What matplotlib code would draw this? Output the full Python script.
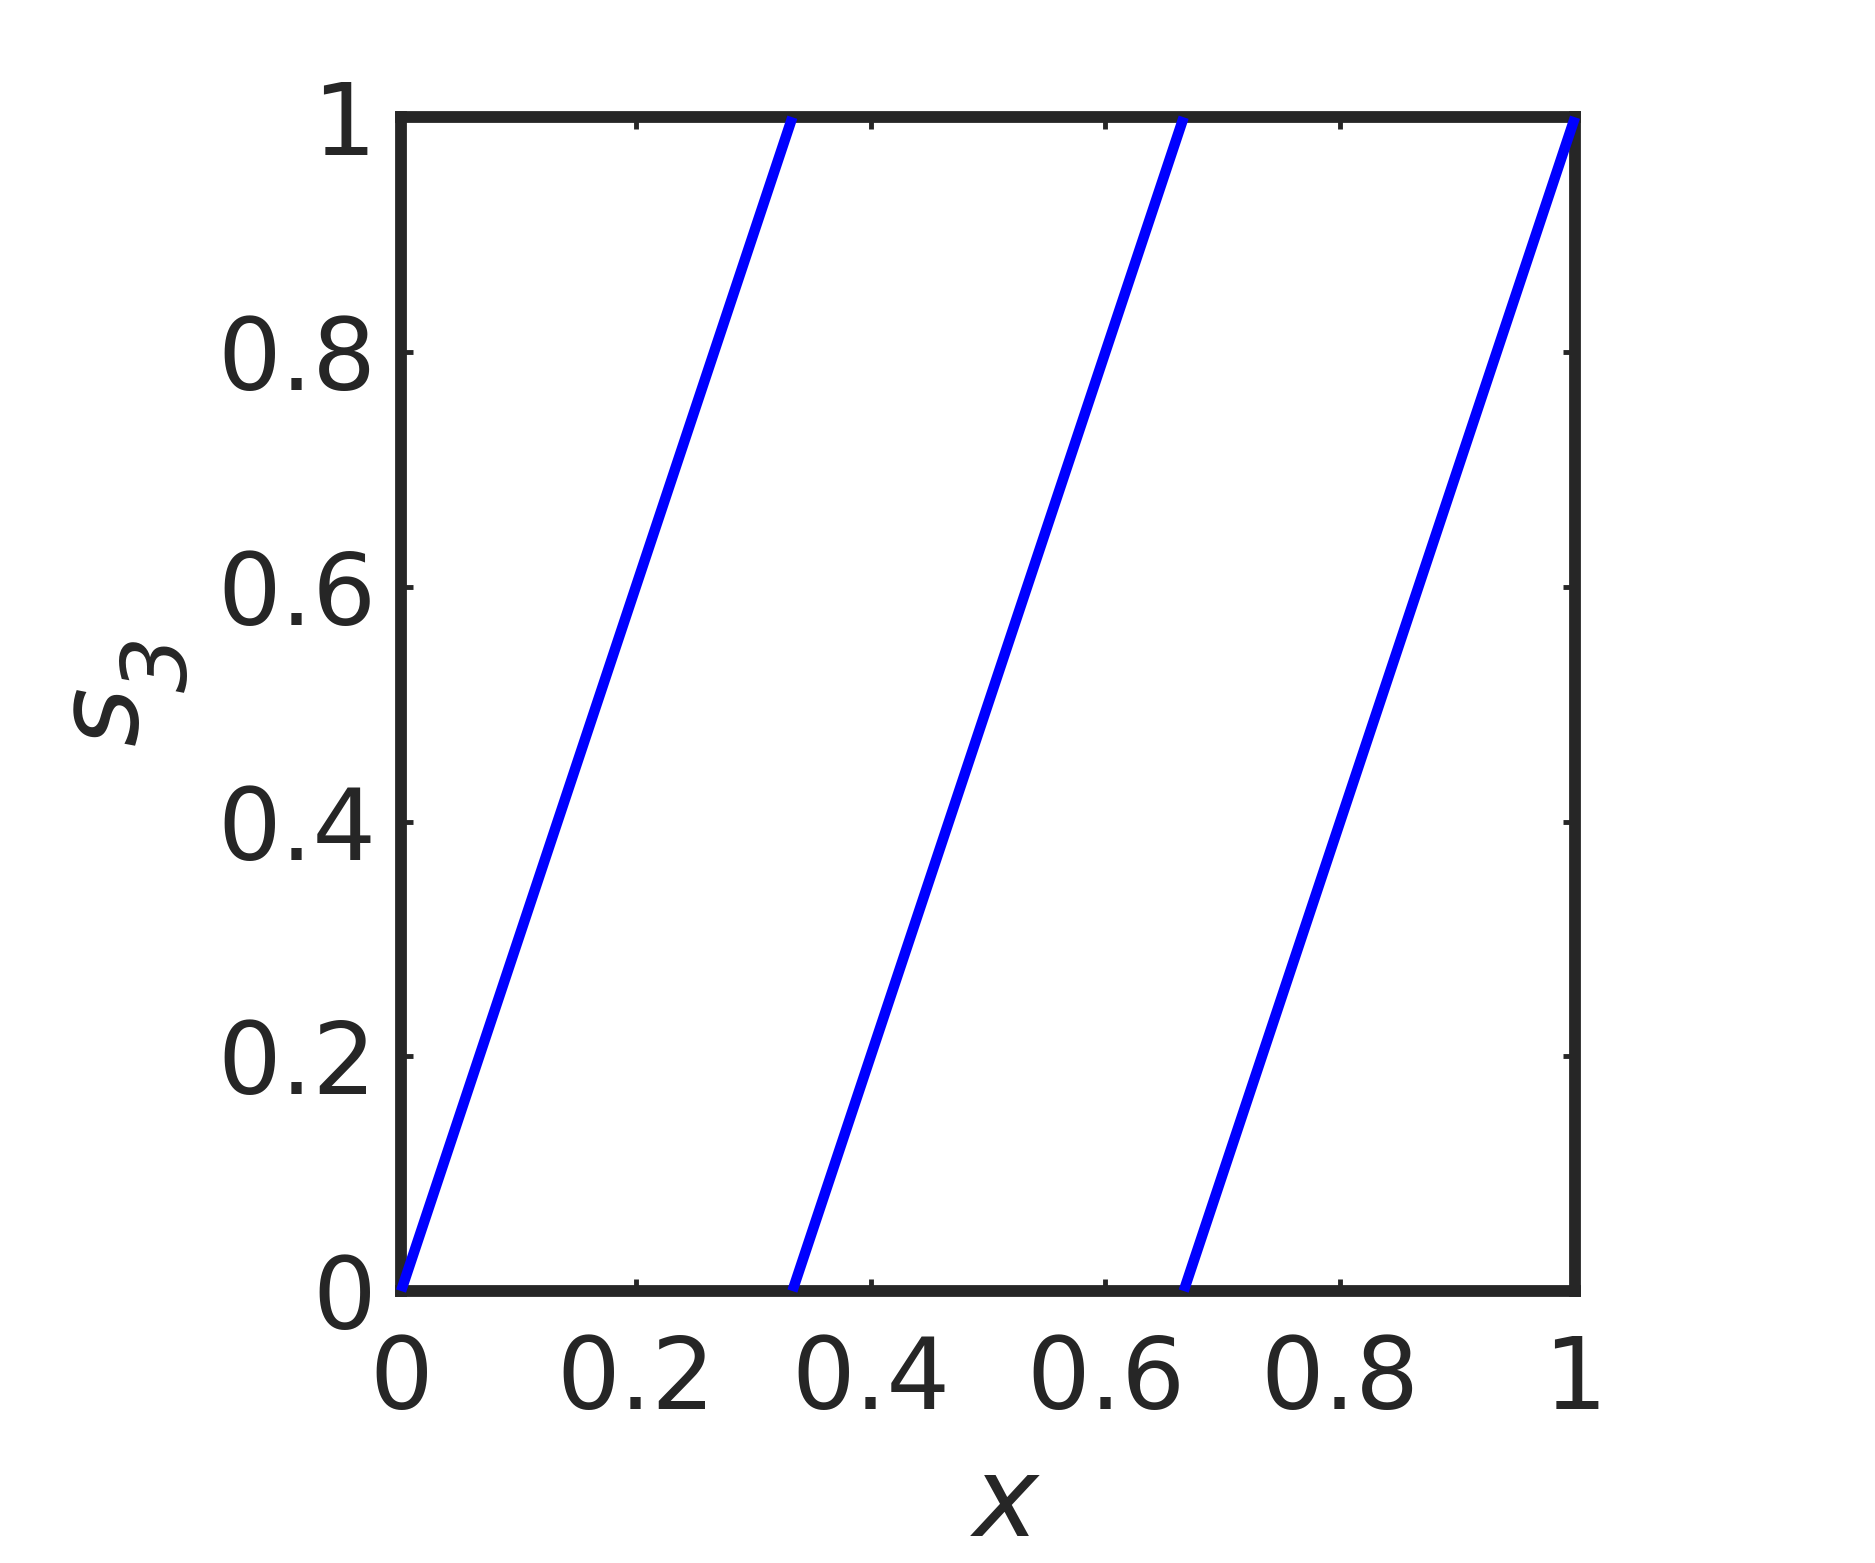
import numpy as np
import matplotlib.pyplot as plt

# sawtooth s_3(x) = frac(3x), one tooth per segment
seg_x = [[0, 1/3], [1/3, 2/3], [2/3, 1]]
seg_s = [[0, 1], [0, 1], [0, 1]]

xticks = [0, 0.2, 0.4, 0.6, 0.8, 1]
yticks = [0, 0.2, 0.4, 0.6, 0.8, 1]
tick_labels = ["0", "0.2", "0.4", "0.6", "0.8", "1"]

dark = "#262626"
plt.rcParams['font.family'] = ['DejaVu Sans']

fig = plt.figure(figsize=(18.75, 15.63), dpi=100)
ax = fig.add_axes([0.2139, 0.174, 0.6261, 0.751])

for xs, ss in zip(seg_x, seg_s):
    ax.plot(xs, ss, color="blue", lw=7.5, solid_capstyle="butt", clip_on=False, zorder=3)

ax.set_xlim(0, 1)
ax.set_ylim(0, 1)
ax.set_xticks(xticks)
ax.set_yticks(yticks)
ax.set_xticklabels(tick_labels)
ax.set_yticklabels(tick_labels)

for sp in ax.spines.values():
    sp.set_linewidth(8.5)
    sp.set_color(dark)

ax.tick_params(direction="in", length=8.5, width=3.5, color=dark, labelcolor=dark,
               labelsize=72, top=True, right=True)
ax.tick_params(axis="x", pad=30)
ax.tick_params(axis="y", pad=18)

ax.set_xlabel("$x$", fontsize=80, color=dark, labelpad=16, x=0.515)

# y label "s" with a lowered subscript "3", both oblique
fig.text(0.056, 0.5426, "s", fontsize=82, fontstyle="italic", color=dark,
         rotation=90, ha="center", va="center")
fig.text(0.0865, 0.5755, "3", fontsize=64, fontstyle="italic", color=dark,
         rotation=90, ha="center", va="center")

fig.savefig("out.png", dpi=100, facecolor="white")
